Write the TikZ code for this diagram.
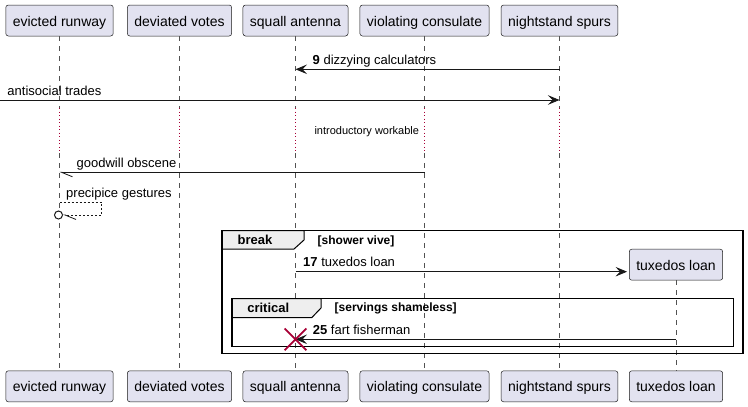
\documentclass[tikz,border=0pt]{standalone}
\usepackage{fontspec}
\setmainfont{Liberation Sans}
\usetikzlibrary{arrows.meta,shapes.misc}
\definecolor{pbox}{HTML}{E2E2F0}
\definecolor{pline}{HTML}{181818}
\definecolor{pred}{HTML}{A80036}
\definecolor{ptab}{HTML}{EEEEEE}
\tikzset{
 part/.style={draw=pline, fill=pbox, line width=0.5pt, rounded corners=2.5pt,
   minimum height=31pt, inner xsep=7pt, inner ysep=0pt, text height=11pt, text depth=0pt,
   font=\fontsize{14}{16}\selectfont},
 life/.style={draw=pline!75, line width=0.5pt, dash pattern=on 5pt off 5pt},
 delayline/.style={draw=pred, line width=0.9pt, dash pattern=on 1pt off 2.5pt},
 msg/.style={draw=pline, line width=0.8pt, -{Stealth[length=11.5pt,width=9.5pt,inset=4.5pt]}},
 halfmsg/.style={draw=pline, line width=0.8pt, -{Straight Barb[left,length=11pt,width=9pt]}},
 selfmsg/.style={draw=pline, line width=0.8pt, dash pattern=on 2pt off 2pt, -{Straight Barb[left,length=11pt,width=9pt]}},
 lbl/.style={anchor=base west, inner sep=0pt, font=\fontsize{13}{15}\selectfont},
 small/.style={anchor=base west, inner sep=0pt, font=\fontsize{11}{13}\selectfont},
 cond/.style={anchor=base west, inner sep=0pt, font=\fontsize{12}{14}\selectfont\bfseries},
 kind/.style={anchor=base, inner sep=0pt, font=\fontsize{13}{15}\selectfont\bfseries},
 grpframe/.style={draw=black, line width=1.5pt},
 grptab/.style={draw=black, line width=1pt, fill=ptab},
}
\begin{document}
\begin{tikzpicture}[x=1pt,y=-1pt]
\useasboundingbox (0,0) rectangle (748,407);
% participants top
\node[part] (t1) at (59.5,20.5) {evicted runway};
\node[part] (t2) at (179.5,20.5) {deviated votes};
\node[part] (t3) at (295.5,20.5) {squall antenna};
\node[part] (t4) at (424.5,20.5) {violating consulate};
\node[part] (t5) at (559.5,20.5) {nightstand spurs};
% participants bottom
\node[part] (b1) at (59.5,386.3) {evicted runway};
\node[part] (b2) at (179.5,386.3) {deviated votes};
\node[part] (b3) at (295.5,386.3) {squall antenna};
\node[part] (b4) at (424.5,386.3) {violating consulate};
\node[part] (b5) at (559.5,386.3) {nightstand spurs};
\node[part] (b6) at (676,386.3) {tuxedos loan};
% created participant
\node[part] (tx) at (676,264.7) {tuxedos loan};
% lifelines with delay
\foreach \n/\x in {1/59.5,2/179.5,3/295.5,4/424.5,5/559.5}{
  \coordinate (da\n) at (\x,108);
  \coordinate (db\n) at (\x,153);
  \draw[life] (t\n.south) -- (da\n);
  \draw[delayline] (da\n) -- (db\n);
  \draw[life] (db\n) -- (b\n.north);
}
\draw[life] (tx.south) -- (b6.north);
% group frames
\draw[grptab] (222,230.5) -- (304,230.5) -- (304,240) -- (294,249) -- (222,249) -- cycle;
\draw[grpframe] (222,230.5) rectangle (743,353.3);
\node[kind] (brk) at (255,244.3) {break};
\node[cond] (brkc) at (317.5,244.3) {[shower vive]};
\draw[grptab] (232,298.5) -- (321,298.5) -- (321,308) -- (311.7,317.7) -- (232,317.7) -- cycle;
\draw[grpframe] (232,298.5) rectangle (733.3,346.7);
\node[kind] (crt) at (268.3,312.3) {critical};
\node[cond] (crtc) at (334.5,311.5) {[servings shameless]};
% messages
\coordinate (m1a) at (559.5,69.3);
\coordinate (m1b) at (295.5,69.3);
\draw[msg] (m1a) -- (m1b);
\node[lbl] (l1) at (312.5,64.5) {\textbf{9} dizzying calculators};
\coordinate (lost) at (0,100);
\coordinate (m2b) at (559.5,100);
\draw[msg] (lost) -- (m2b);
\node[lbl] (l2) at (7.3,95) {antisocial trades};
\node[small] (l3) at (314.3,134) {introductory workable};
\coordinate (m3a) at (424.5,172.3);
\coordinate (m3b) at (59.5,172.3);
\draw[halfmsg] (m3a) -- (m3b);
\node[lbl] (l4) at (76.5,167.5) {goodwill obscene};
\coordinate (m4a) at (59.5,202.3);
\coordinate (m4k) at (101.7,202.3);
\node[circle, draw=pline, line width=1pt, fill=white, minimum size=8pt, inner sep=0pt] (m4o) at (58.5,215) {};
\draw[selfmsg] (m4a) -- (m4k) |- (m4o.east);
\node[lbl] (l5) at (66,197.5) {precipice gestures};
\coordinate (m5a) at (295.5,271.7);
\draw[msg, shorten >=2pt] (m5a) -- (m5a -| tx.west);
\node[lbl] (l6) at (303,266.7) {\textbf{17} tuxedos loan};
\coordinate (m6a) at (676,339.3);
\coordinate (m6b) at (295.5,339.3);
\draw[msg] (m6a) -- (m6b);
\node[cross out, draw=pred, line width=1.8pt, minimum size=20pt, inner sep=0pt] (kill) at (m6b) {};
\node[lbl] (l7) at (312.7,334.3) {\textbf{25} fart fisherman};
\end{tikzpicture}
\end{document}
